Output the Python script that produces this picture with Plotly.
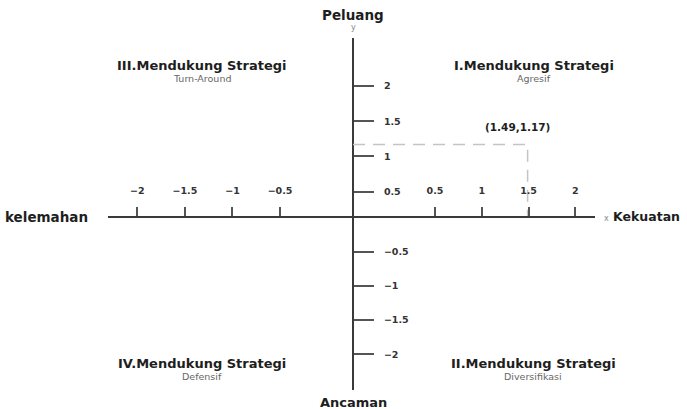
import plotly.graph_objects as go

W, H = 687, 409

# ---- data ----
x_ticks_left = [-2, -1.5, -1, -0.5]
x_ticks_right = [0.5, 1, 1.5, 2]
y_ticks_top = [0.5, 1, 1.5, 2]
y_ticks_bottom = [-0.5, -1, -1.5, -2]
point_x = 1.49
point_y = 1.17
quadrant_titles = ["I.Mendukung Strategi", "II.Mendukung Strategi",
                   "III.Mendukung Strategi", "IV.Mendukung Strategi"]
quadrant_subtitles = ["Agresif", "Diversifikasi", "Turn-Around", "Defensif"]
name_top = "Peluang"
name_bottom = "Ancaman"
name_left = "kelemahan"
name_right = "Kekuatan"

FONT = "DejaVu Sans"
TXT = "#1e1e1e"


def fx(p):
    return p / W


def fy(p):
    return 1 - p / H


# axis geometry (pixel positions of the drawn cross)
x_left_range = [-2.3085, 0.267]
x_right_range = [-0.3758, 2.21]
y_top_range = [0.1405, 2.681]
y_bottom_range = [-2.522, 0.0073]

fig = go.Figure()

# dummy traces so every axis pair exists
for xa, ya in [("x", "y"), ("x", "y2"), ("x2", "y2")]:
    fig.add_trace(go.Scatter(x=[None], y=[None], xaxis=xa, yaxis=ya,
                             showlegend=False, hoverinfo="skip"))

# dashed guide to the point
fig.add_trace(go.Scatter(
    x=[x_right_range[0], point_x, point_x],
    y=[point_y, point_y, y_top_range[0]],
    xaxis="x2", yaxis="y", mode="lines",
    line=dict(color="#c4c4c4", width=1.5, dash="12px,8px"),
    showlegend=False, hoverinfo="skip"))

tickfont = dict(family=FONT, size=9.5, color="#333", weight="bold")
common_x = dict(anchor="free", position=fy(217), side="top", showline=True,
                linecolor="#3a3a3a", linewidth=2, ticks="outside", ticklen=9,
                tickwidth=2, tickcolor="#555", showgrid=False, zeroline=False,
                tickmode="array", tickfont=tickfont, ticklabelstandoff=9,
                fixedrange=True)
common_y = dict(anchor="free", position=fx(353), side="right", showline=True,
                linecolor="#3a3a3a", linewidth=2, ticks="outside", ticklen=20,
                tickwidth=1.5, tickcolor="#555", showgrid=False, zeroline=False,
                tickmode="array", tickfont=tickfont, ticklabelstandoff=8,
                fixedrange=True)

fig.update_layout(
    width=W, height=H, margin=dict(l=0, r=0, t=0, b=0),
    paper_bgcolor="white", plot_bgcolor="rgba(0,0,0,0)",
    xaxis=dict(domain=[fx(108), fx(353)], range=x_left_range,
               tickvals=x_ticks_left, **common_x),
    xaxis2=dict(domain=[fx(353), fx(595)], range=x_right_range,
                tickvals=x_ticks_right, **common_x),
    yaxis=dict(domain=[fy(217), fy(38)], range=y_top_range,
               tickvals=y_ticks_top, **common_y),
    yaxis2=dict(domain=[fy(390), fy(217)], range=y_bottom_range,
                tickvals=y_ticks_bottom, **common_y),
)

ann = []
# point label
ann.append(dict(x=point_x, y=point_y, xref="x2", yref="y",
                text=f"({point_x},{point_y})", showarrow=False,
                xanchor="center", yanchor="bottom", xshift=-10, yshift=9,
                font=dict(family=FONT, size=10.5, color=TXT, weight="bold")))

# quadrant titles
q_pos = [(534, 65), (533, 363), (202, 65), (202, 363)]
for (cx, cy), t, s in zip(q_pos, quadrant_titles, quadrant_subtitles):
    ann.append(dict(x=fx(cx), y=fy(cy), xref="paper", yref="paper", text=t,
                    showarrow=False, xanchor="center", yanchor="middle",
                    font=dict(family=FONT, size=13, color=TXT, weight="bold")))
    ann.append(dict(x=fx(cx), y=fy(cy + 13), xref="paper", yref="paper", text=s,
                    showarrow=False, xanchor="center", yanchor="middle",
                    font=dict(family=FONT, size=9.5, color="#666")))

# axis names
ann.append(dict(x=fx(353), y=fy(15), xref="paper", yref="paper", text=name_top,
                showarrow=False, xanchor="center", yanchor="middle",
                font=dict(family=FONT, size=13.5, color=TXT, weight="bold")))
ann.append(dict(x=fx(353), y=fy(28), xref="paper", yref="paper", text="y",
                showarrow=False, xanchor="center", yanchor="middle",
                font=dict(family=FONT, size=8, color="#888")))
ann.append(dict(x=fx(353), y=fy(402), xref="paper", yref="paper", text=name_bottom,
                showarrow=False, xanchor="center", yanchor="middle",
                font=dict(family=FONT, size=13, color=TXT, weight="bold")))
ann.append(dict(x=fx(3), y=fy(217), xref="paper", yref="paper", text=name_left,
                showarrow=False, xanchor="left", yanchor="middle",
                font=dict(family=FONT, size=13.5, color=TXT, weight="bold")))
ann.append(dict(x=fx(602), y=fy(217), xref="paper", yref="paper",
                text="<span style='font-size:8px;color:#888;font-weight:normal'>x</span> " + name_right,
                showarrow=False, xanchor="left", yanchor="middle",
                font=dict(family=FONT, size=12.5, color=TXT, weight="bold")))

fig.update_layout(annotations=ann)

fig.write_html("out.html", config={"displayModeBar": False},
               post_script="document.body.style.margin='0';document.body.style.overflow='hidden';")
